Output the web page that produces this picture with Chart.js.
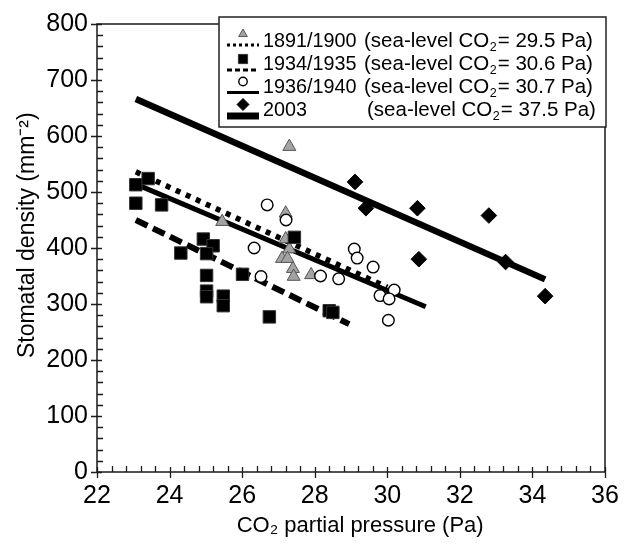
<!DOCTYPE html>
<html>
<head>
<meta charset="utf-8">
<script src="https://cdn.jsdelivr.net/npm/chart.js@4.4.1/dist/chart.umd.min.js"></script>
<style>
  html, body { margin: 0; padding: 0; background: #ffffff; }
  #wrap { width: 631px; height: 548px; position: relative; }
</style>
</head>
<body>
<div id="wrap"><canvas id="c" width="631" height="548"></canvas></div>
<script>
// ---- data ----
const xTicks = [22, 24, 26, 28, 30, 32, 34, 36];
const yTicks = [0, 100, 200, 300, 400, 500, 600, 700, 800];

const legendLabels = ['1891/1900', '1934/1935', '1936/1940', '2003'];
const seaLevelCO2 = ['29.5', '30.6', '30.7', '37.5'];

// 1891/1900 (triangles)
const x1891 = [25.45, 27.30, 27.20, 27.20, 27.30, 27.10, 27.25, 27.40, 27.42, 27.90];
const y1891 = [447, 581, 462, 416, 398, 381, 381, 363, 349, 352];
// 1934/1935 (squares)
const x1934 = [23.07, 23.41, 23.07, 23.78, 24.31, 24.93, 25.20, 25.02, 25.02, 25.02, 25.02, 25.48, 25.48, 26.01, 26.75, 27.44, 28.40, 28.50];
const y1934 = [513, 524, 480, 477, 391, 416, 404, 390, 351, 323, 313, 314, 297, 353, 277, 419, 288, 285];
// 1936/1940 (open circles)
const x1936 = [26.69, 27.21, 26.33, 26.52, 28.16, 28.66, 29.09, 29.17, 29.61, 30.19, 29.80, 30.05, 30.03];
const y1936 = [477, 450, 400, 349, 350, 345, 398, 382, 366, 325, 315, 309, 271];
// 2003 (diamonds)
const x2003 = [29.11, 29.41, 30.83, 32.80, 30.87, 33.26, 34.35];
const y2003 = [518, 471, 471, 458, 380, 375, 314];

// regression lines (end points)
const line1891X = [23.07, 30.0];
const line1891Y = [536, 330];
const line1934X = [23.07, 28.95];
const line1934Y = [450, 264];
const line1936X = [23.07, 31.06];
const line1936Y = [514, 295];
const line2003X = [23.07, 34.35];
const line2003Y = [666, 344];

const pts = (xs, ys) => xs.map((x, i) => ({ x: x, y: ys[i] }));

const FONT = "'Liberation Sans', Arial, Helvetica, sans-serif";

const styles = [
  { pointStyle: 'triangle', bg: '#a3a3a3', border: '#555555', r: 7.5, bw: 1, dash: [5, 6], lw: 5.5, legDash: [3, 3], legLw: 3, legR: 5 },
  { pointStyle: 'rect', bg: '#000000', border: '#333333', r: 8.8, bw: 1, dash: [13, 6], lw: 6, legDash: [5, 3], legLw: 3, legR: 6.5 },
  { pointStyle: 'circle', bg: '#ffffff', border: '#000000', r: 5.8, bw: 1.4, dash: [], lw: 5, legDash: [], legLw: 3, legR: 4.2 },
  { pointStyle: 'rectRot', bg: '#000000', border: '#000000', r: 7.8, bw: 1, dash: [], lw: 6.5, legDash: [], legLw: 7, legR: 6 }
];

const pointSets = [pts(x1891, y1891), pts(x1934, y1934), pts(x1936, y1936), pts(x2003, y2003)];
const lineSets = [pts(line1891X, line1891Y), pts(line1934X, line1934Y), pts(line1936X, line1936Y), pts(line2003X, line2003Y)];

const datasets = [];
// points first (drawn on top)
[2, 1, 0, 3].forEach(i => {
  const s = styles[i];
  datasets.push({
    label: legendLabels[i],
    data: pointSets[i],
    showLine: false,
    pointStyle: s.pointStyle,
    pointRadius: s.r,
    pointHoverRadius: s.r,
    pointBackgroundColor: s.bg,
    pointBorderColor: s.border,
    pointBorderWidth: s.bw
  });
});
[0, 1, 2, 3].forEach(i => {
  const s = styles[i];
  datasets.push({
    label: legendLabels[i] + ' fit',
    data: lineSets[i],
    showLine: true,
    borderColor: '#000000',
    borderWidth: s.lw,
    borderDash: s.dash,
    borderCapStyle: 'butt',
    pointRadius: 0,
    pointHoverRadius: 0,
    fill: false
  });
});

const bgPlugin = {
  id: 'bg',
  beforeDraw(chart) {
    const c = chart.ctx;
    c.save();
    c.fillStyle = '#ffffff';
    c.fillRect(0, 0, chart.width, chart.height);
    c.restore();
  }
};

const framePlugin = {
  id: 'frame',
  afterDraw(chart) {
    const c = chart.ctx;
    const a = chart.chartArea;
    const xs = chart.scales.x, ys = chart.scales.y;
    c.save();
    c.strokeStyle = '#1a1a1a';
    c.lineWidth = 1.5;
    c.strokeRect(a.left, a.top, a.right - a.left, a.bottom - a.top);
    c.lineWidth = 1.3;
    c.beginPath();
    // y ticks: minor every 20 (inside), major every 100 (crossing)
    for (let k = 0; k <= 40; k++) {
      const v = k * 20;
      const py = Math.round(ys.getPixelForValue(v)) + 0.5;
      if (k % 5 === 0) { c.moveTo(a.left - 6, py); c.lineTo(a.left + 5, py); }
      else { c.moveTo(a.left, py); c.lineTo(a.left + 6, py); }
    }
    // x ticks: minor every 0.4 (inside), major every 2 (crossing)
    for (let k = 0; k <= 35; k++) {
      const v = 22 + k * 0.4;
      const px = Math.round(xs.getPixelForValue(v)) + 0.5;
      if (k % 5 === 0) { c.moveTo(px, a.bottom + 6); c.lineTo(px, a.bottom - 5); }
      else { c.moveTo(px, a.bottom); c.lineTo(px, a.bottom - 6); }
    }
    c.stroke();
    c.restore();

    // legend
    const L = { x: 219, y: 17, w: 387, h: 110 };
    c.save();
    c.fillStyle = '#ffffff';
    c.fillRect(L.x, L.y, L.w, L.h);
    c.strokeStyle = '#222222';
    c.lineWidth = 1.5;
    c.strokeRect(L.x, L.y, L.w, L.h);
    const baselines = [47, 69.5, 92.5, 116];
    const lineYs = [45, 70, 92.5, 116];
    const markYs = [34, 59, 81.5, 104.5];
    for (let i = 0; i < 4; i++) {
      const s = styles[i];
      c.save();
      c.strokeStyle = '#000000';
      c.lineWidth = s.legLw;
      c.setLineDash(s.legDash);
      c.beginPath();
      c.moveTo(227, lineYs[i]);
      c.lineTo(259, lineYs[i]);
      c.stroke();
      c.restore();
      c.save();
      c.fillStyle = s.bg;
      c.strokeStyle = s.border;
      c.lineWidth = s.bw;
      Chart.helpers.drawPoint(c, { pointStyle: s.pointStyle, radius: s.legR, borderWidth: s.bw, rotation: 0 }, 243, markYs[i]);
      c.restore();

      c.fillStyle = '#000000';
      c.textBaseline = 'alphabetic';
      c.font = '19.8px ' + FONT;
      c.fillText(legendLabels[i], 263, baselines[i]);
      c.font = '20.5px ' + FONT;
      let tx = i === 3 ? 367 : 364;
      const t1 = '(sea-level CO';
      c.fillText(t1, tx, baselines[i]);
      tx += c.measureText(t1).width;
      c.font = '12.5px ' + FONT;
      c.fillText('2', tx + 0.5, baselines[i] + 4);
      tx += c.measureText('2').width + 1.5;
      c.font = '20.5px ' + FONT;
      c.fillText('= ' + seaLevelCO2[i] + ' Pa)', tx, baselines[i]);
    }
    c.restore();
  }
};

new Chart(document.getElementById('c'), {
  type: 'scatter',
  data: { datasets: datasets },
  options: {
    responsive: false,
    animation: false,
    events: [],
    layout: { padding: { top: 17, right: 26, left: 0, bottom: 9 } },
    plugins: { legend: { display: false }, tooltip: { enabled: false } },
    scales: {
      x: {
        type: 'linear',
        min: 22, max: 36,
        afterFit: s => { s.height = 67; },
        afterBuildTicks: s => { s.ticks = xTicks.map(v => ({ value: v })); },
        grid: { display: true, drawOnChartArea: false, drawTicks: false, color: 'rgba(0,0,0,0)' },
        border: { display: false },
        ticks: { padding: 9, color: '#000000', font: { family: FONT, size: 25 }, maxRotation: 0 },
        title: { display: true, text: '   CO₂ partial pressure (Pa)', color: '#000000', font: { family: FONT, size: 22 }, padding: { top: 0, bottom: 0 } }
      },
      y: {
        type: 'linear',
        min: 0, max: 800,
        afterFit: s => { s.width = 97; },
        afterBuildTicks: s => { s.ticks = yTicks.map(v => ({ value: v })); },
        grid: { display: true, drawOnChartArea: false, drawTicks: false, color: 'rgba(0,0,0,0)' },
        border: { display: false },
        ticks: { padding: 9, color: '#000000', font: { family: FONT, size: 25 } },
        title: { display: true, text: '    Stomatal density (mm⁻²)', color: '#000000', font: { family: FONT, size: 23 }, padding: { top: 14, bottom: 0 } }
      }
    }
  },
  plugins: [bgPlugin, framePlugin]
});
</script>
</body>
</html>
